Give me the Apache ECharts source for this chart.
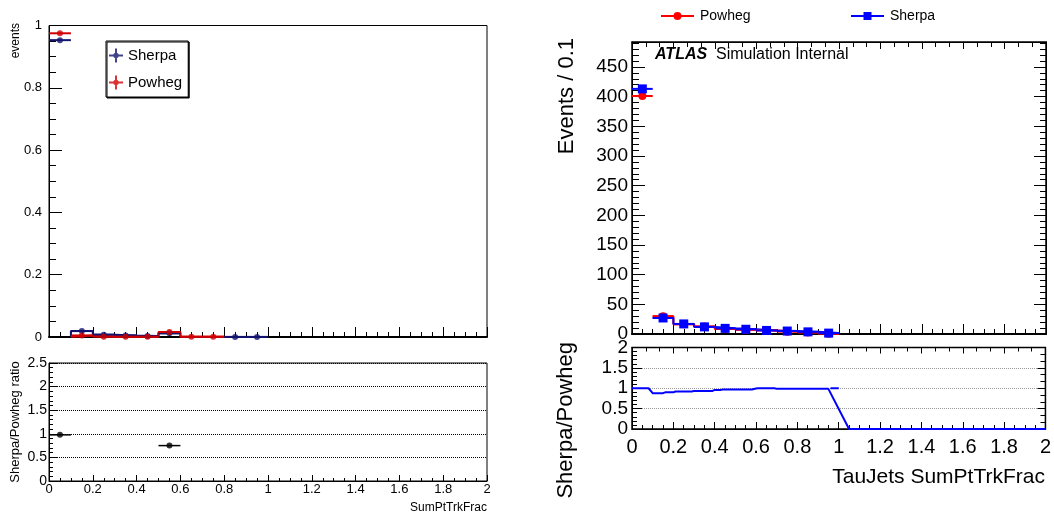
<!DOCTYPE html>
<html>
<head>
<meta charset="utf-8">
<script src="https://cdn.jsdelivr.net/npm/echarts@6/dist/echarts.min.js"></script>
<style>
html, body { margin: 0; padding: 0; background: #fff; }
#c { width: 1054px; height: 517px; }
</style>
</head>
<body>
<div id="c"></div>
<script>
// SumPtTrkFrac binning: 10 bins of width 0.1 between 0 and 1
const binCenters = [0.05, 0.15, 0.25, 0.35, 0.45, 0.55, 0.65, 0.75, 0.85, 0.95];
const binWidth = 0.1;

// Normalised distributions (left pad); null marks an empty bin
const sherpaNorm = [0.953, 0.019, 0.0075, 0.005, 0.003, 0.012, null, null, 0.0003, 0.0003];
const powhegNorm = [0.975, 0.005, 0.001, 0.001, 0.001, 0.016, 0.001, 0.001, null, null];

// Event counts per bin (right pad)
const sherpaEvents = [413, 27, 17, 12, 9.5, 8, 6, 5, 3.6, 1.5];
const powhegEvents = [401, 30, 16.5, 12.5, 8.5, 7, 6, 4, 2.5, 0.5];

// Sherpa/Powheg ratio curve (right pad, lower panel)
const ratioCurveX = [0, 0.08, 0.10, 0.15, 0.16, 0.20, 0.21, 0.29, 0.30, 0.39, 0.40, 0.43, 0.44, 0.58, 0.60, 0.61, 0.69, 0.70, 0.95, 1.05, 2.0];
const ratioCurveY = [1.0, 1.0, 0.88, 0.88, 0.90, 0.90, 0.92, 0.92, 0.935, 0.935, 0.96, 0.96, 0.967, 0.967, 0.992, 1.0, 1.0, 0.985, 0.985, 0, 0];
const ratioTailX = [0.96, 1.0];
const ratioTailY = [1.0, 1.0];

const FONT = '"Liberation Sans", Arial, Helvetica, sans-serif';
const NAVY = '#14146e';
const DARKRED = '#d10000';
const RED = '#ff0000';
const BLUE = '#0000ff';

const binLow = i => Math.round((binCenters[i] - binWidth / 2) * 1000) / 1000;

// Outline of a histogram as a step line, from bin `first` to the last filled bin
function stepPoints(values, first, dropToZero) {
  let last = values.length - 1;
  while (last >= first && values[last] == null) last--;
  const pts = [];
  if (dropToZero) pts.push([binLow(first), 0]);
  for (let i = first; i <= last; i++) pts.push([binLow(i), values[i] == null ? 0 : values[i]]);
  const hi = Math.round((binLow(last) + binWidth) * 1000) / 1000;
  pts.push([hi, values[last]]);
  if (dropToZero) pts.push([hi, 0]);
  return pts;
}

function points(values) {
  const out = [];
  values.forEach((v, i) => { if (v != null) out.push([binCenters[i], v]); });
  return out;
}

// Horizontal error bar spanning the bin width
function hBar(lineWidth) {
  return function (params, api) {
    const x = api.value(0), y = api.value(1);
    const a = api.coord([x - binWidth / 2, y]);
    const b = api.coord([x + binWidth / 2, y]);
    return {
      type: 'line',
      shape: { x1: a[0], y1: a[1], x2: b[0], y2: b[1] },
      style: { stroke: api.visual('color'), lineWidth: lineWidth }
    };
  };
}

// Ratio of the normalised distributions, kept where it falls inside the panel range
const normRatio = [];
sherpaNorm.forEach((s, i) => {
  const p = powhegNorm[i];
  if (s != null && p != null && s > 0 && p > 0 && s / p <= 2.5) normRatio.push([binCenters[i], s / p]);
});

function valueAxis(o) {
  return {
    type: 'value',
    gridIndex: o.grid,
    position: o.position,
    min: o.min,
    max: o.max,
    interval: o.interval,
    axisLine: { show: true, onZero: false, lineStyle: { color: '#000', width: o.lineWidth || 1 } },
    axisTick: { show: true, inside: true, length: o.tick, lineStyle: { color: '#000' } },
    minorTick: { show: true, splitNumber: o.minor, length: o.minorLen, lineStyle: { color: '#000' } },
    axisLabel: o.label ? Object.assign({ show: true, color: '#000', fontFamily: FONT, showMaxLabel: o.showMax !== false }, o.label) : { show: false },
    splitLine: o.split ? { show: true, lineStyle: o.split } : { show: false }
  };
}

// Marker with error cross, as used in the legend of the normalised plot
const crossIcon = 'path://M6,0h2v6h6v2h-6v6h-2v-6h-6v-2h6z M7,4.3a2.7,2.7 0 1,1 -0.01,0z';
const legendNames = { sherpaNorm: 'Sherpa', powhegNorm: 'Powheg' };

const option = {
  animation: false,
  backgroundColor: '#fff',
  grid: [
    { left: 49, top: 25.5, width: 438, height: 311.5, show: true, borderColor: '#000', borderWidth: 1 },
    { left: 49, top: 363, width: 438, height: 118, show: true, borderColor: '#000', borderWidth: 1 },
    { left: 632, top: 42, width: 414, height: 292, show: true, borderColor: '#000', borderWidth: 1.5 },
    { left: 632, top: 347.5, width: 414, height: 81.5, show: true, borderColor: '#000', borderWidth: 1.5 }
  ],
  xAxis: [
    valueAxis({ grid: 0, position: 'bottom', min: 0, max: 2, interval: 0.2, tick: 10, minor: 4, minorLen: 5, lineWidth: 2 }),
    valueAxis({ grid: 1, position: 'bottom', min: 0, max: 2, interval: 0.2, tick: 6, minor: 4, minorLen: 3,
      label: { fontSize: 13, margin: 2 } }),
    valueAxis({ grid: 2, position: 'bottom', min: 0, max: 2, interval: 0.2, tick: 10, minor: 4, minorLen: 5, lineWidth: 2 }),
    valueAxis({ grid: 2, position: 'top', min: 0, max: 2, interval: 0.2, tick: 7, minor: 3, minorLen: 5 }),
    valueAxis({ grid: 3, position: 'bottom', min: 0, max: 2, interval: 0.2, tick: 7, minor: 4, minorLen: 4,
      label: { fontSize: 20, margin: 8 } }),
    valueAxis({ grid: 3, position: 'top', min: 0, max: 2, interval: 0.2, tick: 6, minor: 3, minorLen: 4 })
  ],
  yAxis: [
    valueAxis({ grid: 0, position: 'left', min: 0, max: 1, interval: 0.2, tick: 13, minor: 4, minorLen: 7,
      label: { fontSize: 13, margin: 7 } }),
    valueAxis({ grid: 1, position: 'left', min: 0, max: 2.5, interval: 0.5, tick: 8, minor: 5, minorLen: 4,
      label: { fontSize: 14, margin: 2 },
      split: { type: 'dotted', color: '#000', width: 1 } }),
    valueAxis({ grid: 2, position: 'left', min: 0, max: 492, interval: 50, tick: 13, minor: 5, minorLen: 7,
      label: { fontSize: 19, margin: 4 }, showMax: false }),
    valueAxis({ grid: 2, position: 'right', min: 0, max: 492, interval: 50, tick: 12, minor: 5, minorLen: 6 }),
    valueAxis({ grid: 3, position: 'left', min: 0, max: 2, interval: 0.5, tick: 10, minor: 5, minorLen: 5,
      label: { fontSize: 19, margin: 4 },
      split: { type: 'dotted', color: '#9a9a9a', width: 1 } }),
    valueAxis({ grid: 3, position: 'right', min: 0, max: 2, interval: 0.5, tick: 8, minor: 3, minorLen: 5 })
  ],
  legend: [
    {
      data: [
        { name: 'sherpaNorm', icon: crossIcon, itemStyle: { color: NAVY, borderWidth: 0 } },
        { name: 'powhegNorm', icon: crossIcon, itemStyle: { color: DARKRED, borderWidth: 0 } }
      ],
      formatter: n => legendNames[n],
      orient: 'vertical', left: 106, top: 41,
      padding: [7, 6, 7, 3], itemGap: 12, itemWidth: 14, itemHeight: 14,
      borderColor: '#000', borderWidth: 1,
      shadowColor: '#000', shadowOffsetX: 1, shadowOffsetY: 1, shadowBlur: 0,
      backgroundColor: '#fff',
      selectedMode: false,
      textStyle: { fontSize: 15, color: '#000', fontFamily: FONT }
    },
    {
      data: ['Powheg'], left: 660, top: 9, padding: 0, itemWidth: 33, itemHeight: 10, selectedMode: false,
      lineStyle: { opacity: 1, width: 2 },
      textStyle: { fontSize: 14, color: '#000', fontFamily: FONT, padding: [0, 0, 0, 1] }
    },
    {
      data: ['Sherpa'], left: 850, top: 9, padding: 0, itemWidth: 33, itemHeight: 10, selectedMode: false,
      lineStyle: { opacity: 1, width: 2 },
      textStyle: { fontSize: 14, color: '#000', fontFamily: FONT, padding: [0, 0, 0, 1] }
    }
  ],
  series: [
    // left pad: normalised shapes
    { name: 'sherpaNormHist', type: 'line', xAxisIndex: 0, yAxisIndex: 0, step: 'end', symbol: 'none',
      data: stepPoints(sherpaNorm, 1, true), lineStyle: { color: NAVY, width: 2 }, itemStyle: { color: NAVY }, z: 3 },
    { name: 'powhegNormHist', type: 'line', xAxisIndex: 0, yAxisIndex: 0, step: 'end', symbol: 'none',
      data: stepPoints(powhegNorm, 1, true), lineStyle: { color: DARKRED, width: 2 }, itemStyle: { color: DARKRED }, z: 3 },
    { name: 'sherpaNormBars', type: 'custom', xAxisIndex: 0, yAxisIndex: 0, renderItem: hBar(2),
      data: points(sherpaNorm), itemStyle: { color: NAVY }, encode: { x: 0, y: 1 }, z: 4 },
    { name: 'powhegNormBars', type: 'custom', xAxisIndex: 0, yAxisIndex: 0, renderItem: hBar(2),
      data: points(powhegNorm), itemStyle: { color: DARKRED }, encode: { x: 0, y: 1 }, z: 4 },
    { name: 'sherpaNorm', type: 'scatter', xAxisIndex: 0, yAxisIndex: 0, symbol: 'circle', symbolSize: 6,
      data: points(sherpaNorm), itemStyle: { color: NAVY }, z: 5 },
    { name: 'powhegNorm', type: 'scatter', xAxisIndex: 0, yAxisIndex: 0, symbol: 'circle', symbolSize: 6,
      data: points(powhegNorm), itemStyle: { color: DARKRED }, z: 5 },

    // left pad: ratio
    { name: 'normRatioBars', type: 'custom', xAxisIndex: 1, yAxisIndex: 1, renderItem: hBar(1.5),
      data: normRatio, itemStyle: { color: '#000' }, encode: { x: 0, y: 1 }, z: 4 },
    { name: 'normRatio', type: 'scatter', xAxisIndex: 1, yAxisIndex: 1, symbol: 'circle', symbolSize: 6,
      data: normRatio, itemStyle: { color: '#000' }, z: 5 },

    // right pad: event counts
    { name: 'powhegHist', type: 'line', xAxisIndex: 2, yAxisIndex: 2, step: 'end', symbol: 'none',
      data: stepPoints(powhegEvents, 1, false), lineStyle: { color: RED, width: 2 }, z: 3 },
    { name: 'sherpaHist', type: 'line', xAxisIndex: 2, yAxisIndex: 2, step: 'end', symbol: 'none',
      data: stepPoints(sherpaEvents, 1, false), lineStyle: { color: BLUE, width: 2 }, z: 3 },
    { name: 'powhegBars', type: 'custom', xAxisIndex: 2, yAxisIndex: 2, renderItem: hBar(2),
      data: points(powhegEvents), itemStyle: { color: RED }, encode: { x: 0, y: 1 }, z: 4 },
    { name: 'sherpaBars', type: 'custom', xAxisIndex: 2, yAxisIndex: 2, renderItem: hBar(2),
      data: points(sherpaEvents), itemStyle: { color: BLUE }, encode: { x: 0, y: 1 }, z: 4 },
    { name: 'Powheg', type: 'line', xAxisIndex: 2, yAxisIndex: 2, symbol: 'circle', symbolSize: 8, showSymbol: true,
      data: points(powhegEvents), itemStyle: { color: RED }, lineStyle: { color: RED, width: 2, opacity: 0 }, z: 5 },
    { name: 'Sherpa', type: 'line', xAxisIndex: 2, yAxisIndex: 2, symbol: 'rect', symbolSize: 9, showSymbol: true,
      data: points(sherpaEvents), itemStyle: { color: BLUE }, lineStyle: { color: BLUE, width: 2, opacity: 0 }, z: 6 },

    // right pad: ratio curve
    { name: 'ratioCurve', type: 'line', xAxisIndex: 4, yAxisIndex: 4, symbol: 'none',
      data: ratioCurveX.map((x, i) => [x, ratioCurveY[i]]), lineStyle: { color: BLUE, width: 2 }, z: 4 },
    { name: 'ratioTail', type: 'line', xAxisIndex: 4, yAxisIndex: 4, symbol: 'none',
      data: ratioTailX.map((x, i) => [x, ratioTailY[i]]), lineStyle: { color: BLUE, width: 2 }, z: 4 }
  ],
  graphic: [
    { type: 'text', x: 16, y: 23, rotation: Math.PI / 2,
      style: { text: 'events', font: '12px ' + FONT, fill: '#000', textAlign: 'right', align: 'right', textVerticalAlign: 'middle', verticalAlign: 'middle' } },
    { type: 'text', x: 15, y: 422, rotation: Math.PI / 2,
      style: { text: 'Sherpa/Powheg ratio', font: '13px ' + FONT, fill: '#000', textAlign: 'center', align: 'center', textVerticalAlign: 'middle', verticalAlign: 'middle' } },
    { type: 'text', x: 487, y: 508,
      style: { text: 'SumPtTrkFrac', font: '12px ' + FONT, fill: '#000', textAlign: 'right', align: 'right', textVerticalAlign: 'middle', verticalAlign: 'middle' } },
    { type: 'text', x: 567, y: 38, rotation: Math.PI / 2,
      style: { text: 'Events / 0.1', font: '22px ' + FONT, fill: '#000', textAlign: 'right', align: 'right', textVerticalAlign: 'middle', verticalAlign: 'middle' } },
    { type: 'text', x: 566, y: 342, rotation: Math.PI / 2,
      style: { text: 'Sherpa/Powheg', font: '22px ' + FONT, fill: '#000', textAlign: 'right', align: 'right', textVerticalAlign: 'middle', verticalAlign: 'middle' } },
    { type: 'text', x: 1045, y: 477,
      style: { text: 'TauJets SumPtTrkFrac', font: '21px ' + FONT, fill: '#000', textAlign: 'right', align: 'right', textVerticalAlign: 'middle', verticalAlign: 'middle' } },
    { type: 'text', x: 655, y: 55,
      style: { text: 'ATLAS', font: 'italic bold 16px ' + FONT, fill: '#000', textAlign: 'left', align: 'left', textVerticalAlign: 'middle', verticalAlign: 'middle' } },
    { type: 'text', x: 716, y: 55,
      style: { text: 'Simulation Internal', font: '16px ' + FONT, fill: '#000', textAlign: 'left', align: 'left', textVerticalAlign: 'middle', verticalAlign: 'middle' } }
  ]
};

const chart = echarts.init(document.getElementById('c'));
chart.setOption(option);
</script>
</body>
</html>
